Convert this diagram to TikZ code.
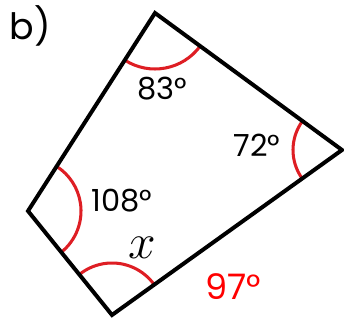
\documentclass[tikz,border=0pt]{standalone}
\usepackage{fontspec}
\setmainfont{Poppins}
\usepackage{xcolor}
\usetikzlibrary{angles}

\definecolor{arcred}{RGB}{222,30,36}

\tikzset{
  side/.style={line width=3.4pt, black},
  anglearc/.style={draw=arcred, line width=2.6pt},
  deg/.style={font=\fontsize{26}{30}\selectfont, inner sep=0pt},
}

\begin{document}
\begin{tikzpicture}[x=0.03cm, y=0.03cm]
\useasboundingbox (0,0) rectangle (344,321);

%--- Corners of the quadrilateral ---
\coordinate (T) at (155,308);
\coordinate (R) at (342,171);
\coordinate (B) at (112,6);
\coordinate (L) at (28,110);

% Part label
\node[deg, font=\fontsize{31}{35}\selectfont] (part) at (30,295) {b)};

% Angle marks
\pic[anglearc, angle radius=1.68cm] {angle = L--T--R};
\pic[anglearc, angle radius=1.47cm] {angle = T--R--B};
\pic[anglearc, angle radius=1.59cm] {angle = B--L--T};
\pic[anglearc, angle radius=1.56cm] {angle = R--B--L};

% Sides
\draw[side] (T) -- (R) -- (B) -- (L) -- cycle;

% Angle values
\node[deg] (aT) at (162,232) {83°};
\node[deg] (aR) at (257,176) {72°};
\node[deg] (aL) at (122,120) {108°};
\node[deg] (aB) at (142,73) {\scalebox{1.7}{$x$}};
\node[deg, red, font=\fontsize{30}{34}\selectfont] (ext) at (233,34) {97°};
\end{tikzpicture}
\end{document}
